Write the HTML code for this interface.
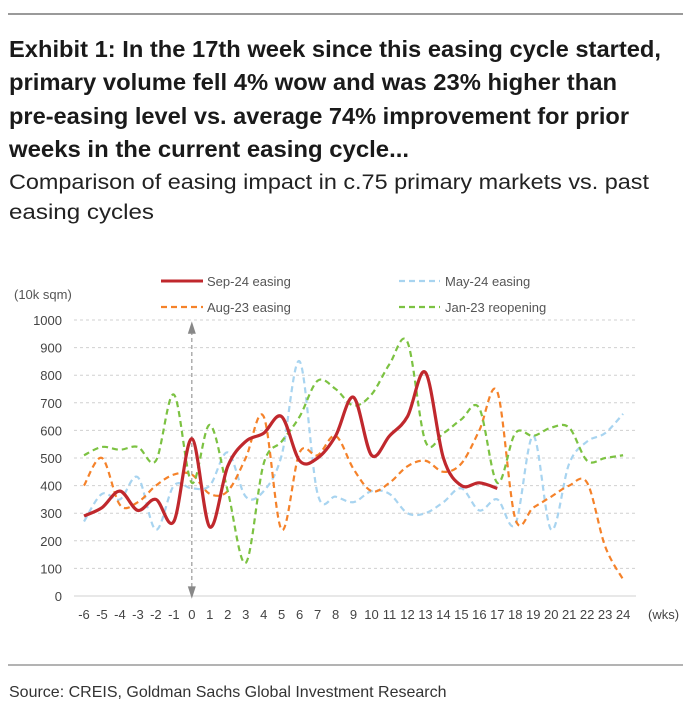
<!DOCTYPE html>
<html><head><meta charset="utf-8"><style>
html,body{margin:0;padding:0;background:#fff;}
svg{display:block;font-family:"Liberation Sans Narrow","Liberation Sans",sans-serif;}
</style></head><body>
<svg id="chart" width="693" height="713" viewBox="0 0 693 713">
<line x1="8" y1="14" x2="683" y2="14" stroke="#9a9a9a" stroke-width="2"/>
<g font-weight="bold" font-size="23" fill="#1a1a1a">
<text x="9" y="57" textLength="652" lengthAdjust="spacingAndGlyphs">Exhibit 1: In the 17th week since this easing cycle started,</text>
<text x="9" y="90" textLength="608" lengthAdjust="spacingAndGlyphs">primary volume fell 4% wow and was 23% higher than</text>
<text x="9" y="124" textLength="620" lengthAdjust="spacingAndGlyphs">pre-easing level vs. average 74% improvement for prior</text>
<text x="9" y="157" textLength="400" lengthAdjust="spacingAndGlyphs">weeks in the current easing cycle...</text>
</g>
<g font-size="21" fill="#222">
<text x="9" y="189" textLength="640" lengthAdjust="spacingAndGlyphs">Comparison of easing impact in c.75 primary markets vs. past</text>
<text x="9" y="219" textLength="145" lengthAdjust="spacingAndGlyphs">easing cycles</text>
</g>
<g font-size="13" fill="#555">
<g><line x1="161" y1="281" x2="203" y2="281" stroke="#c0282d" stroke-width="3"/><text x="207" y="286">Sep-24 easing</text></g>
<g><line x1="399" y1="281" x2="440" y2="281" stroke="#a8d4f0" stroke-width="2.2" stroke-dasharray="6,4"/><text x="445" y="286">May-24 easing</text></g>
<g><line x1="161" y1="307" x2="203" y2="307" stroke="#f5822a" stroke-width="2.2" stroke-dasharray="6,4"/><text x="207" y="312">Aug-23 easing</text></g>
<g><line x1="399" y1="307" x2="440" y2="307" stroke="#7cc242" stroke-width="2.2" stroke-dasharray="6,4"/><text x="445" y="312">Jan-23 reopening</text></g>
</g>
<text x="14" y="299" font-size="13" fill="#555">(10k sqm)</text>
<g id="grid"></g><g id="axes"></g><g id="series"></g>
<line x1="8" y1="665" x2="683" y2="665" stroke="#9a9a9a" stroke-width="1.5"/>
<text x="9" y="697" font-size="16" fill="#333">Source: CREIS, Goldman Sachs Global Investment Research</text>
</svg>
<script>
const weeks=[-6,-5,-4,-3,-2,-1,0,1,2,3,4,5,6,7,8,9,10,11,12,13,14,15,16,17,18,19,20,21,22,23,24];
const yTicks=[0,100,200,300,400,500,600,700,800,900,1000];
const sep24=[290,320,380,310,350,270,570,250,470,560,590,650,490,500,580,720,510,580,650,810,500,400,410,390];
const may24=[270,370,350,430,240,400,390,400,520,360,380,510,850,370,360,340,380,370,300,300,340,390,310,350,260,580,240,480,560,590,660];
const aug23=[400,500,330,340,400,440,440,370,380,500,650,240,520,510,580,460,380,410,470,490,450,480,600,740,280,320,360,400,410,180,60];
const jan23=[510,540,530,540,490,730,410,620,380,120,480,560,650,780,750,690,730,840,920,560,590,640,680,410,590,580,610,610,490,500,510];
const NS="http://www.w3.org/2000/svg";
const x0=84,dx=17.97,yb=596,ys=0.276;
const X=w=>x0+(w+6)*dx, Y=v=>yb-v*ys;
function mk(t,a,p){const e=document.createElementNS(NS,t);for(const k in a)e.setAttribute(k,a[k]);p.appendChild(e);return e;}
const grid=document.getElementById('grid'),axes=document.getElementById('axes'),ser=document.getElementById('series');
yTicks.forEach(v=>{
 if(v>0){const g=mk('line',{x1:74,x2:636,y1:Y(v),y2:Y(v),stroke:'#d0d0d0','stroke-dasharray':'3,3'},grid);
 
 }
 const t=mk('text',{x:62,y:Y(v)+5,'text-anchor':'end','font-size':13,fill:'#444'},axes);t.textContent=v;
 
 
});
const ax=mk('line',{x1:74,x2:636,y1:yb,y2:yb,stroke:'#d0d0d0'},axes);


weeks.forEach(w=>{const t=mk('text',{x:X(w),y:619,'text-anchor':'middle','font-size':13,fill:'#444'},axes);t.textContent=w;
 
 });
const wk=mk('text',{x:648,y:619,'font-size':13,fill:'#444'},axes);wk.textContent='(wks)';


const arr=mk('g',{},axes);


mk('line',{x1:X(0),x2:X(0),y1:Y(960),y2:Y(25),stroke:'#999','stroke-dasharray':'4,3','stroke-width':1.2},arr);
mk('path',{d:`M${X(0)-4},${Y(950)} L${X(0)},${Y(995)} L${X(0)+4},${Y(950)}Z`,fill:'#888'},arr);
mk('path',{d:`M${X(0)-4},${Y(35)} L${X(0)},${Y(-10)} L${X(0)+4},${Y(35)}Z`,fill:'#888'},arr);
function path(vals){const p=vals.map((v,i)=>[X(weeks[i]),Y(v)]);let d=`M${p[0][0]},${p[0][1]}`;
 for(let i=0;i<p.length-1;i++){const a=p[i-1]||p[i],b=p[i],c=p[i+1],e=p[i+2]||c;
 d+=` C${b[0]+(c[0]-a[0])/6},${b[1]+(c[1]-a[1])/6} ${c[0]-(e[0]-b[0])/6},${c[1]-(e[1]-b[1])/6} ${c[0]},${c[1]}`;}return d;}
[[may24,'#a8d4f0',2.2,'series-may24'],[aug23,'#f5822a',2.2,'series-aug23'],[jan23,'#7cc242',2.2,'series-jan23'],[sep24,'#c0282d',3.2,'series-sep24']].forEach(([v,c,w,n])=>{
 const l=mk('path',{d:path(v),fill:'none',stroke:c,'stroke-width':w,'stroke-dasharray':n==='series-sep24'?'none':'6,4'},ser);
 
 
});
</script>
</body></html>
